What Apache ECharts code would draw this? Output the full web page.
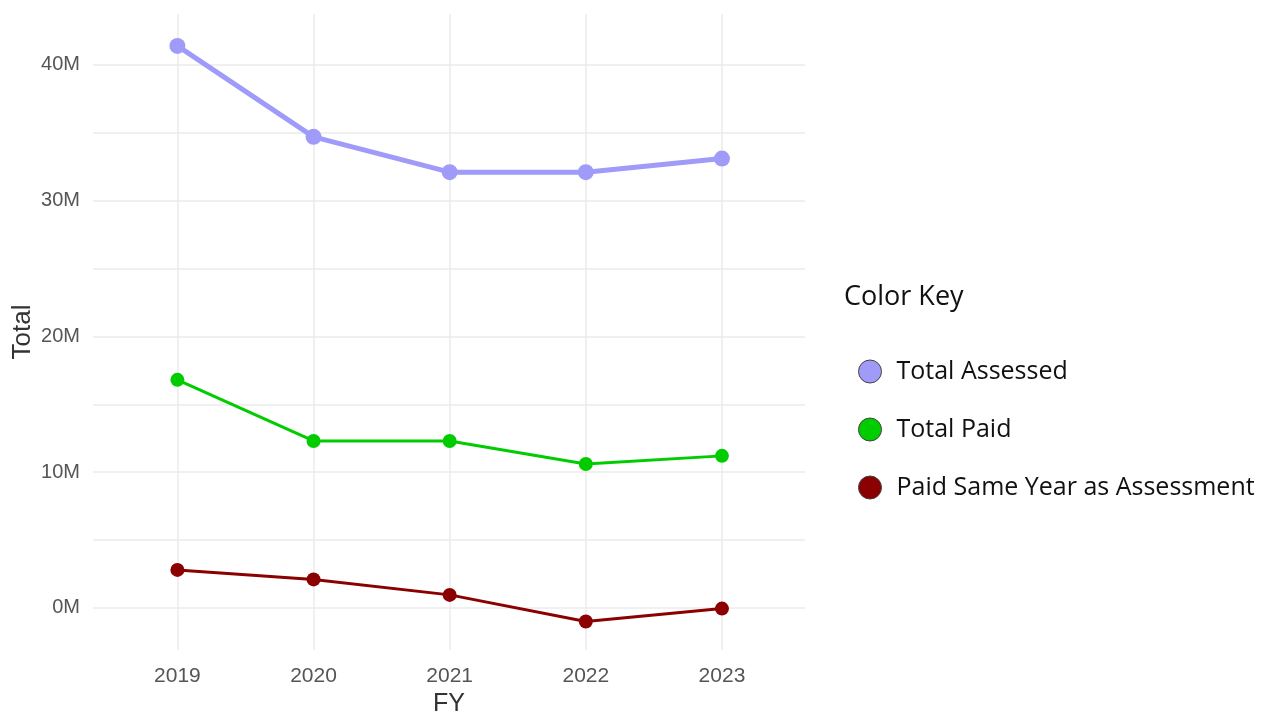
<!DOCTYPE html>
<html><head><meta charset="utf-8">
<script src="https://cdn.jsdelivr.net/npm/echarts@6/dist/echarts.min.js"></script>
<style>html,body{margin:0;padding:0;background:#fff}#c{width:1266px;height:715px}</style>
</head><body><div id="c"></div>
<script>
const years = [2019, 2020, 2021, 2022, 2023];
const totalAssessed = [41.4e6, 34.7e6, 32.1e6, 32.1e6, 33.1e6];
const totalPaid = [16.8e6, 12.3e6, 12.3e6, 10.6e6, 11.2e6];
const paidSameYear = [2.8e6, 2.1e6, 0.96e6, -1.0e6, -0.05e6];
const yLabelTicks = [0, 10e6, 20e6, 30e6, 40e6];
const yGridTicks = [0, 5e6, 10e6, 15e6, 20e6, 25e6, 30e6, 35e6, 40e6];
const seriesNames = ['Total Assessed', 'Total Paid', 'Paid Same Year as Assessment'];
const colors = ['#a09bf9', '#00cc00', '#8b0000'];

const pairs = arr => years.map((y, i) => [y, arr[i]]);
const chart = echarts.init(document.getElementById('c'));
const gridLine = { show: true, lineStyle: { color: '#ebebeb', width: 1.5 } };
chart.setOption({
  animation: false,
  backgroundColor: '#fff',
  title: { text: 'Color Key', left: 839, top: 279,
    textStyle: { fontFamily: 'Open Sans', fontSize: 27, fontWeight: 'normal', color: '#111' } },
  legend: {
    orient: 'vertical', left: 853, top: 354, itemGap: 33,
    icon: 'circle', itemWidth: 23, itemHeight: 23,
    itemStyle: { borderColor: '#444', borderWidth: 1 },
    textStyle: { fontFamily: 'Open Sans', fontSize: 25, color: '#111', lineHeight: 24, padding: [0,0,0,10] },
    data: seriesNames
  },
  grid: { left: 93, right: 461, top: 14, bottom: 65, containLabel: false, outerBoundsMode: 'none' },
  xAxis: {
    type: 'value', min: 2018.38, max: 2023.61,
    name: 'FY', nameLocation: 'middle', nameGap: 39,
    nameTextStyle: { fontFamily: 'Liberation Sans', fontSize: 25, color: '#333' },
    axisLine: { show: false },
    axisTick: { show: false, customValues: years },
    axisLabel: { customValues: years, fontFamily: 'Liberation Sans', fontSize: 21, color: '#555', margin: 16, formatter: v => String(v) },
    splitLine: gridLine
  },
  yAxis: {
    type: 'value', min: -3.1e6, max: 43.75e6,
    name: 'Total', nameLocation: 'middle', nameGap: 57, nameRotate: 90, nameMoveOverlap: false,
    nameTextStyle: { fontFamily: 'Liberation Sans', fontSize: 26, color: '#333' },
    axisLine: { show: false },
    axisTick: { show: false, customValues: yGridTicks },
    axisLabel: { customValues: yLabelTicks, fontFamily: 'Liberation Sans', fontSize: 20, color: '#555', margin: 13,
      formatter: v => Math.round(v / 1e6) + 'M' },
    splitLine: gridLine
  },
  series: [
    { name: seriesNames[0], type: 'line', data: pairs(totalAssessed), color: colors[0],
      symbol: 'circle', symbolSize: 16, lineStyle: { width: 5 } },
    { name: seriesNames[1], type: 'line', data: pairs(totalPaid), color: colors[1],
      symbol: 'circle', symbolSize: 14, lineStyle: { width: 3 } },
    { name: seriesNames[2], type: 'line', data: pairs(paidSameYear), color: colors[2],
      symbol: 'circle', symbolSize: 14, lineStyle: { width: 3 } }
  ]
});
</script></body></html>
